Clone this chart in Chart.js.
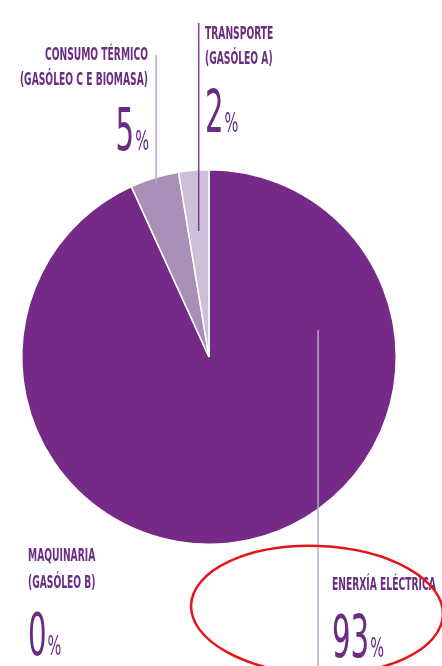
<!DOCTYPE html>
<html>
<head>
<meta charset="utf-8">
<script src="https://cdn.jsdelivr.net/npm/chart.js@4"></script>
<style>
  html, body { margin: 0; padding: 0; background: #fff; }
  #wrap { width: 442px; height: 666px; }
</style>
</head>
<body>
<div id="wrap"><canvas id="pieChart"></canvas></div>
<script>
// data
const sectorNames = [
  ['ENERXÍA ELÉCTRICA'],
  ['MAQUINARIA', '(GASÓLEO B)'],
  ['CONSUMO TÉRMICO', '(GASÓLEO C E BIOMASA)'],
  ['TRANSPORTE', '(GASÓLEO A)']
];
const sliceShares = [93.2, 0, 4.2, 2.6];
const printedPercent = ['93', '0', '5', '2'];

const sliceColors = ['#752a87', '#752a87', '#a78fb7', '#cdbfd8'];
const textColor = '#6a2b82';
const NARROW = '"Liberation Sans Narrow", "DejaVu Sans Condensed", Roboto, sans-serif';

// where each label sits and where its leader line points into the slice
const labelLayout = [
  { x: 332, align: 'left', nameY: [590], numY: 657, line: { color: '#b6abc8', at: 0.227, r: 0.6, to: 666 } },
  { x: 28, align: 'left', nameY: [561, 588], numY: 655 },
  { x: 149, align: 'right', nameY: [60, 85], numY: 150, line: { color: '#b9aac6', at: 0.5, r: 0.97, to: 55 } },
  { x: 205, align: 'left', nameY: [39, 64], numY: 132, line: { color: '#7b3e90', at: 0.5, r: 0.675, to: 23 } }
];

function squeezed(ctx, text, x, y, font, sx) {
  ctx.save();
  ctx.font = font;
  ctx.translate(x, y);
  ctx.scale(sx, 1);
  ctx.textAlign = 'left';
  ctx.fillText(text, 0, 0);
  ctx.restore();
}
function squeezedWidth(ctx, text, font, sx) {
  ctx.save();
  ctx.font = font;
  const w = ctx.measureText(text).width * sx;
  ctx.restore();
  return w;
}

const nameFont = 'bold 17px ' + NARROW, nameSx = 0.6;
const digitFont = '58px ' + NARROW, digitSx = 0.56;
const pctFont = '27px ' + NARROW, pctSx = 0.6;

const labelPlugin = {
  id: 'labels',
  afterDraw(chart) {
    const ctx = chart.ctx;
    const arcs = chart.getDatasetMeta(0).data;
    ctx.save();
    ctx.textBaseline = 'alphabetic';

    labelLayout.forEach((lay, i) => {
      // leader line
      if (lay.line) {
        const arc = arcs[i];
        const a = arc.startAngle + (arc.endAngle - arc.startAngle) * lay.line.at;
        const px = arc.x + Math.cos(a) * arc.outerRadius * lay.line.r;
        const py = arc.y + Math.sin(a) * arc.outerRadius * lay.line.r;
        ctx.strokeStyle = lay.line.color;
        ctx.lineWidth = 1.5;
        ctx.beginPath();
        ctx.moveTo(px, py);
        ctx.lineTo(px, lay.line.to);
        ctx.stroke();
      }

      ctx.fillStyle = textColor;
      sectorNames[i].forEach((txt, k) => {
        const w = squeezedWidth(ctx, txt, nameFont, nameSx);
        const x = lay.align === 'right' ? lay.x - w - 1 : lay.x;
        squeezed(ctx, txt, x, lay.nameY[k], nameFont, nameSx);
      });

      const num = printedPercent[i];
      const dw = squeezedWidth(ctx, num, digitFont, digitSx);
      const pw = squeezedWidth(ctx, '%', pctFont, pctSx);
      const total = dw + 1 + pw;
      const x0 = lay.align === 'right' ? lay.x - total : lay.x;
      squeezed(ctx, num, x0, lay.numY, digitFont, digitSx);
      squeezed(ctx, '%', x0 + dw + 1, lay.numY, pctFont, pctSx);
    });

    // red hand-drawn highlight round the big share
    ctx.strokeStyle = '#e3151b';
    ctx.lineWidth = 2.5;
    ctx.beginPath();
    ctx.ellipse(317, 610, 126, 64, 0.04, 0, Math.PI * 2);
    ctx.stroke();
    ctx.restore();
  }
};

new Chart(document.getElementById('pieChart'), {
  type: 'pie',
  data: {
    labels: sectorNames.map(n => n.join(' ')),
    datasets: [{
      data: sliceShares,
      backgroundColor: sliceColors,
      borderColor: '#ffffff',
      borderWidth: 1.5
    }]
  },
  options: {
    responsive: true,
    maintainAspectRatio: false,
    animation: false,
    layout: { padding: { left: 21, top: 169, right: 45, bottom: 121 } },
    plugins: {
      legend: { display: false },
      tooltip: { enabled: false }
    }
  },
  plugins: [labelPlugin]
});
</script>
</body>
</html>
